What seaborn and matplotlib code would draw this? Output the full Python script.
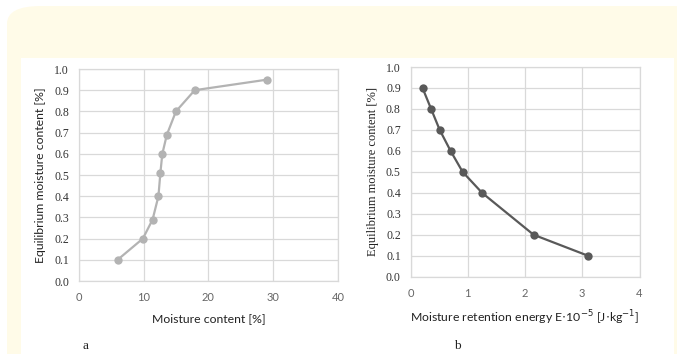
import numpy as np
import pandas as pd
import matplotlib
matplotlib.use("Agg")
import matplotlib.pyplot as plt
from matplotlib.patches import FancyBboxPatch, Rectangle
import seaborn as sns

# panel a: equilibrium moisture vs moisture content
moisture_pct = [6.0, 9.9, 11.4, 12.3, 12.6, 12.9, 13.6, 15.0, 17.9, 29.1]
equil_a = [0.10, 0.20, 0.29, 0.40, 0.51, 0.60, 0.69, 0.80, 0.90, 0.95]

# panel b: equilibrium moisture vs moisture retention energy
energy = [0.21, 0.36, 0.51, 0.70, 0.91, 1.25, 2.15, 3.10]
equil_b = [0.90, 0.80, 0.70, 0.60, 0.50, 0.40, 0.20, 0.10]

y_ticks = [0.0, 0.1, 0.2, 0.3, 0.4, 0.5, 0.6, 0.7, 0.8, 0.9, 1.0]

sns.set_style("white")
plt.rcParams["font.family"] = ["Lato", "DejaVu Sans"]

SANS = ["Lato", "DejaVu Sans"]
SERIF = ["Liberation Serif", "DejaVu Serif"]
GRID = "#d9d9d9"

fig = plt.figure(figsize=(6.77, 3.54), dpi=100)

# background card
fig.patches.append(FancyBboxPatch((7 / 677, 1 - 200 / 354), 700 / 677, 194 / 354,
                                  boxstyle="round,pad=0,rounding_size=0.05",
                                  transform=fig.transFigure, facecolor="#fffbe8",
                                  edgecolor="none", zorder=-3))
fig.patches.append(Rectangle((7 / 677, 0), 670 / 677, 1 - 150 / 354,
                             transform=fig.transFigure, facecolor="#fffbe8",
                             edgecolor="none", zorder=-3))
fig.patches.append(Rectangle((21 / 677, 0), 653 / 677, 1 - 58 / 354,
                             transform=fig.transFigure, facecolor="white",
                             edgecolor="none", zorder=-2))

ax_a = fig.add_axes([78.7 / 677, 1 - 281 / 354, 259.3 / 677, 212 / 354])
ax_b = fig.add_axes([410.5 / 677, 1 - 276.7 / 354, 229 / 677, 209.7 / 354])

df_a = pd.DataFrame({"x": moisture_pct, "y": equil_a})
df_b = pd.DataFrame({"x": energy, "y": equil_b})

sns.lineplot(data=df_a, x="x", y="y", ax=ax_a, sort=False, color="#b3b3b3",
             marker="o", markersize=6, markeredgewidth=0, linewidth=1.6)
sns.lineplot(data=df_b, x="x", y="y", ax=ax_b, sort=False, color="#595959",
             marker="o", markersize=6, markeredgewidth=0, linewidth=1.6)

for ax, xt in [(ax_a, [0, 10, 20, 30, 40]), (ax_b, [0, 1, 2, 3, 4])]:
    ax.set_facecolor("white")
    ax.set_xlim(xt[0], xt[-1])
    ax.set_ylim(0, 1.0)
    ax.set_xticks(xt)
    ax.set_yticks(y_ticks)
    ax.set_yticklabels([f"{v:.1f}" for v in y_ticks], fontfamily=SERIF, fontsize=8.5,
                       color="#333333")
    ax.set_xticklabels([str(v) for v in xt], fontfamily=SANS, fontsize=8,
                       color="#666666")
    ax.grid(True, color=GRID, linewidth=0.9)
    ax.set_axisbelow(True)
    for s in ax.spines.values():
        s.set_color(GRID)
        s.set_linewidth(0.9)
    ax.tick_params(axis="y", length=0, pad=7)
    ax.tick_params(axis="x", length=0, pad=8)

ax_a.set_xlabel("Moisture content [%]", fontfamily=SANS, fontsize=8.8, color="#222222",
                labelpad=7)
ax_a.set_ylabel("Equilibrium moisture content [%]", fontfamily=SANS, fontsize=8.8,
                color="#222222", labelpad=6)
ax_b.set_xlabel(r"Moisture retention energy E$\cdot$10$^{-5}$ [J$\cdot$kg$^{-1}$]",
                fontfamily=SANS, fontsize=8.8, color="#222222", labelpad=7)
ax_b.set_ylabel("Equilibrium moisture content [%]", fontfamily=SERIF, fontsize=9,
                color="#222222", labelpad=5)

fig.text(85 / 677, 1 - 346 / 354, "a", fontfamily=SERIF, fontsize=9.5, ha="center",
         va="center", color="#222222")
fig.text(457 / 677, 1 - 346 / 354, "b", fontfamily=SERIF, fontsize=9.5, ha="center",
         va="center", color="#222222")

fig.savefig("out.png", dpi=100)
